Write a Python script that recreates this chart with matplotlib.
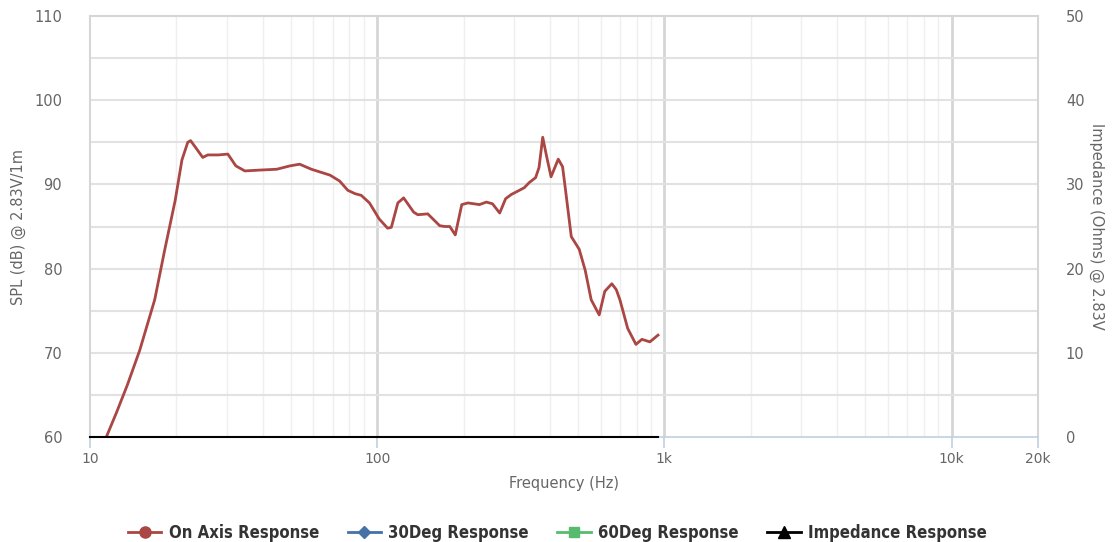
import matplotlib.pyplot as plt
from matplotlib.lines import Line2D
from matplotlib.ticker import FixedLocator, NullFormatter

plt.rcParams["font.family"] = ["DejaVu Sans"]

# On-axis SPL (Hz, dB)
freq_on = [11.4, 12.4, 13.5, 14.9, 16.8, 18.2, 19.8, 20.9, 21.9, 22.4, 23.3, 24.7, 25.7,
           28.0, 30.2, 32.2, 34.6, 39.0, 44.7, 49.7, 53.7, 59.0, 68.5, 74.0, 79.0,
           83.7, 88.0, 94.0, 101.6, 108.7, 112.0, 118.0, 123.6, 134.0, 138.5, 150.0,
           165.0, 172.0, 179.0, 187.0, 197.0, 207.0, 227.0, 240.0, 252.0, 267.0, 280.0,
           293.0, 325.0, 338.0, 356.0, 366.0, 377.0, 388.0, 403.0, 427.0, 442.0, 452.0,
           474.0, 505.0, 530.0, 556.0, 593.0, 620.0, 656.0, 680.0, 700.0, 745.0, 796.0,
           835.0, 890.0, 950.0]
spl_on = [60.0, 63.0, 66.2, 70.3, 76.3, 82.2, 88.1, 92.9, 95.0, 95.2, 94.4, 93.2, 93.5,
          93.5, 93.6, 92.2, 91.6, 91.7, 91.8, 92.2, 92.4, 91.8, 91.1, 90.4, 89.3,
          88.9, 88.7, 87.8, 85.9, 84.8, 84.9, 87.8, 88.4, 86.7, 86.4, 86.5,
          85.1, 85.0, 85.0, 84.0, 87.6, 87.8, 87.6, 87.9, 87.7, 86.6, 88.3,
          88.8, 89.6, 90.2, 90.8, 92.0, 95.6, 93.5, 90.9, 93.0, 92.1, 89.5,
          83.8, 82.3, 79.8, 76.3, 74.5, 77.3, 78.2, 77.5, 76.3, 72.9, 71.0,
          71.6, 71.3, 72.1]

# Impedance response (flat at 0 ohms in the reference)
freq_imp = [10, 950]
imp_vals = [0, 0]

x_ticks = [10, 100, 1000, 10000, 20000]
x_tick_labels = ["10", "100", "1k", "10k", "20k"]
y_left_ticks = [60, 70, 80, 90, 100, 110]
y_right_ticks = [0, 10, 20, 30, 40, 50]

c_on = "#aa4643"
c_30 = "#4572a7"
c_60 = "#57bb6e"
c_imp = "#000000"
txt = "#666666"

fig = plt.figure(figsize=(11.15, 5.42), dpi=100)
ax = fig.add_axes([0.0807, 0.1937, 0.8503, 0.7768])
ax.set_xscale("log")
ax.set_xlim(10, 20000)
ax.set_ylim(60, 110)

# grid
minor = [m * 10 ** e for e in range(1, 5) for m in range(2, 10) if m * 10 ** e < 20000]
for f in minor:
    ax.axvline(f, color="#efefef", lw=1.0, zorder=0)
for f in [100, 1000, 10000]:
    ax.axvline(f, color="#d6d6d6", lw=2.0, zorder=0)
for v in range(65, 110, 5):
    ax.axhline(v, color="#e2e2e2", lw=1.5, zorder=0)

for s in ["left", "top", "right"]:
    ax.spines[s].set_color("#d6d6d6")
    ax.spines[s].set_linewidth(1.5)
ax.spines["bottom"].set_color("#c0d0e0")
ax.spines["bottom"].set_linewidth(1.2)

ax.xaxis.set_major_locator(FixedLocator(x_ticks))
ax.xaxis.set_minor_formatter(NullFormatter())
ax.set_xticks(x_ticks)
ax.set_xticklabels(x_tick_labels)
ax.tick_params(axis="x", which="major", colors="#c0d0e0", labelcolor=txt, length=8,
               width=1.2, labelsize=10, pad=3)
ax.tick_params(axis="x", which="minor", length=0)
ax.set_yticks(y_left_ticks)
ax.tick_params(axis="y", length=0, labelcolor=txt, labelsize=10.5, pad=20)
ax.set_xlabel("Frequency (Hz)", color=txt, fontsize=10.5, labelpad=7)
ax.set_ylabel("SPL (dB) @ 2.83V/1m", color=txt, fontsize=10.5, va="center")
ax.yaxis.set_label_coords(-0.076, 0.5)

ax.plot(freq_on, spl_on, color=c_on, lw=2.0, zorder=3, solid_joinstyle="round")

ax2 = ax.twinx()
ax2.set_ylim(0, 50)
ax2.set_yticks(y_right_ticks)
ax2.tick_params(axis="y", length=0, labelcolor=txt, labelsize=10.5, pad=20)
for s in ax2.spines.values():
    s.set_visible(False)
ax2.set_ylabel("Impedance (Ohms) @ 2.83V", color=txt, fontsize=10.5, rotation=270,
               va="center")
ax2.yaxis.set_label_coords(1.062, 0.5)
ax2.plot(freq_imp, imp_vals, color=c_imp, lw=1.5, zorder=4, clip_on=False)

handles = [
    Line2D([], [], color=c_on, lw=2, marker="o", markersize=8),
    Line2D([], [], color=c_30, lw=2, marker="D", markersize=6),
    Line2D([], [], color=c_60, lw=2, marker="s", markersize=7),
    Line2D([], [], color=c_imp, lw=2, marker="^", markersize=8),
]
labels = ["On Axis Response", "30Deg Response", "60Deg Response", "Impedance Response"]
fig.legend(handles, labels, loc="lower center", bbox_to_anchor=(0.5, -0.027), ncol=4,
           frameon=False, handlelength=2.0, columnspacing=1.7, handletextpad=0.45,
           prop={"weight": "bold", "size": 12, "stretch": "condensed"},
           labelcolor="#333333")

fig.savefig("out.png", dpi=100)
